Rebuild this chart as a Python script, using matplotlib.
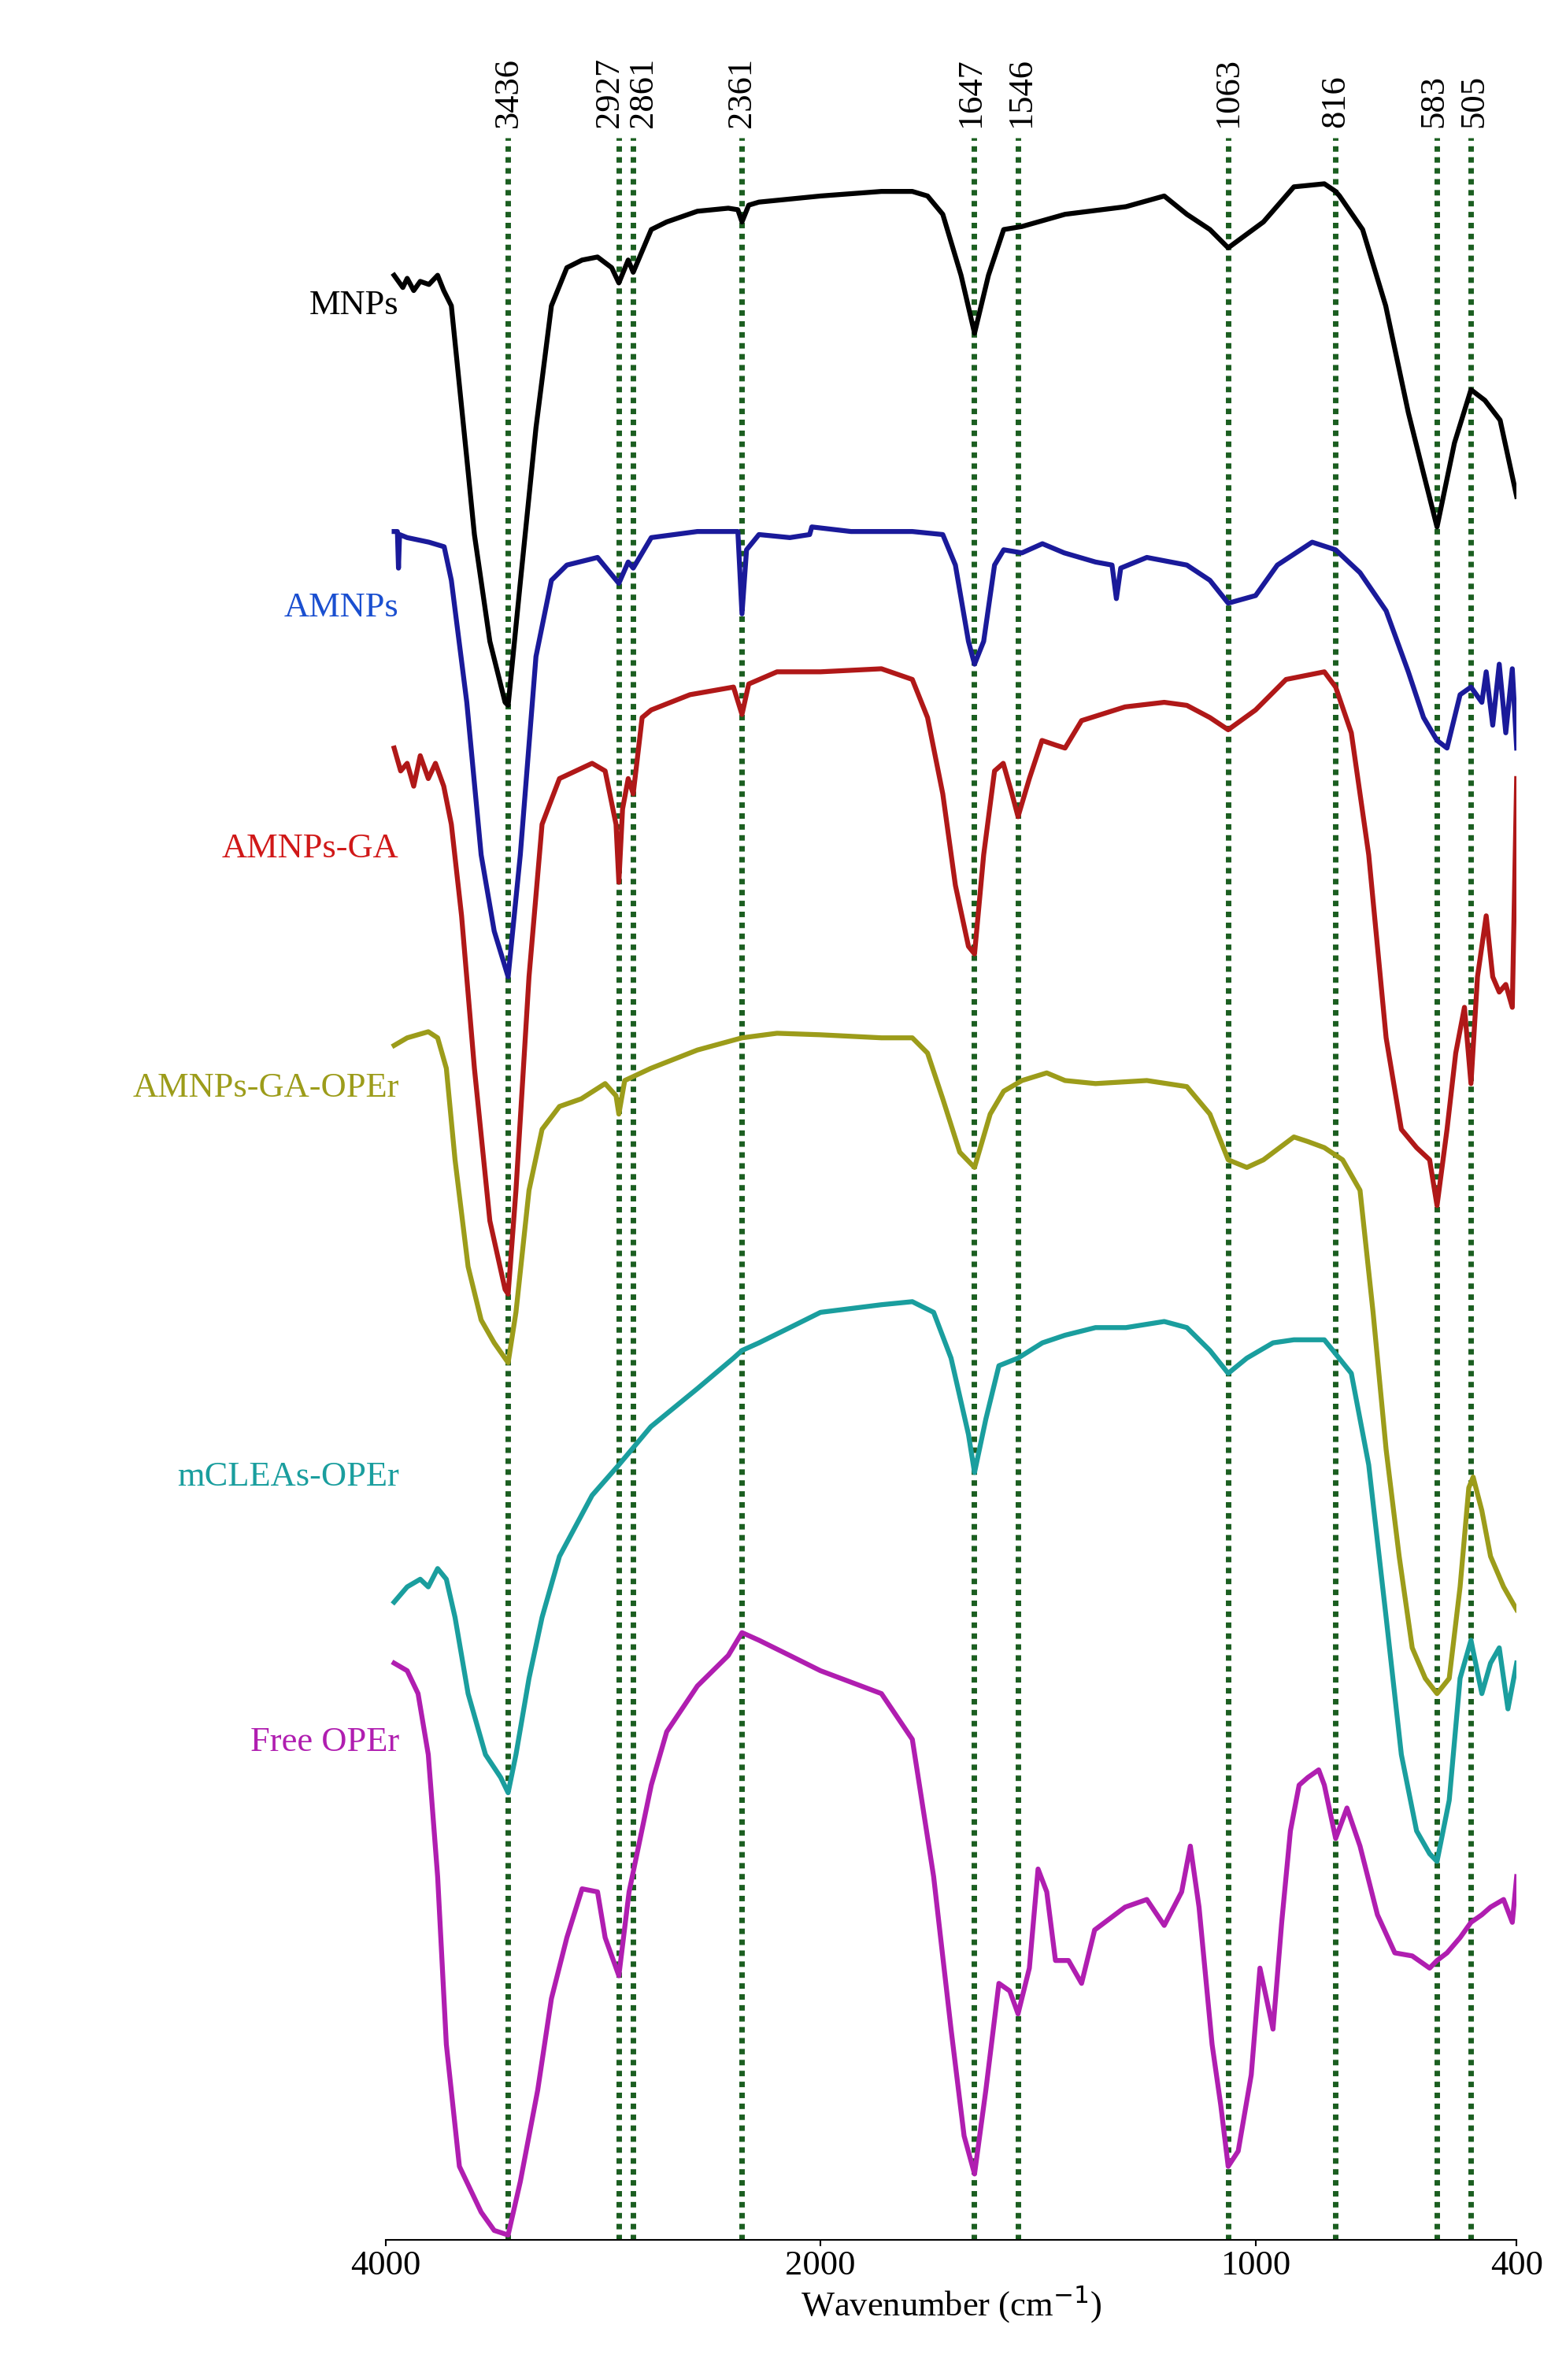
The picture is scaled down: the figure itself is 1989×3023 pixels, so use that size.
import numpy as np
import matplotlib
matplotlib.use("Agg")
import matplotlib.pyplot as plt
import matplotlib.transforms as mtransforms

peaks = [3436, 2927, 2861, 2361, 1647, 1546, 1063, 816, 583, 505]
tick_vals = [4000, 2000, 1000, 400]

mnps_x = [3960,3920,3900,3870,3840,3800,3760,3732,3697,3626,3591,3520,3450,3436,3379,3308,3237,3166,3096,3025,2960,2927,2884,2861,2778,2707,2566,2424,2380,2361,2330,2283,2141,2000,1860,1789,1754,1719,1677,1646,1614,1579,1537,1438,1298,1210,1158,1105,1063,982,912,842,816,807,754,701,649,614,583,543,505,473,438,400]
mnps_y = [180,188,182,190,184,186,180,190,200,300,350,420,460,462,380,280,200,175,170,168,175,185,170,178,150,145,138,136,137,145,134,132,130,128,125,125,128,140,180,218,180,150,148,140,135,128,140,150,162,145,122,120,125,128,150,200,270,310,345,290,255,262,275,325]

amnps_x = [3960,3945,3940,3935,3900,3800,3730,3697,3626,3560,3500,3436,3380,3308,3237,3166,3025,2927,2884,2861,2778,2566,2380,2361,2340,2283,2141,2050,2040,1930,1789,1719,1690,1660,1646,1625,1600,1579,1537,1490,1440,1368,1330,1320,1310,1250,1158,1105,1063,1000,950,870,816,760,700,649,614,583,560,530,505,480,470,455,440,425,410,400]
amnps_y = [348,348,372,350,352,355,358,380,460,560,610,640,560,430,380,370,365,382,368,372,352,348,348,402,360,350,352,350,345,348,348,350,370,420,435,420,370,360,362,356,362,368,370,392,372,365,370,380,395,390,370,355,360,375,400,440,470,485,490,455,450,460,440,475,435,480,438,490]

ga_x = [3960,3930,3900,3870,3840,3803,3770,3732,3697,3650,3591,3520,3450,3436,3400,3340,3280,3200,3050,2990,2940,2927,2910,2884,2861,2820,2778,2600,2400,2361,2330,2200,2000,1860,1789,1754,1719,1690,1660,1646,1625,1600,1580,1560,1546,1520,1491,1460,1438,1400,1300,1210,1158,1105,1063,1000,930,842,816,780,740,700,665,630,600,583,560,540,520,505,490,470,455,440,425,410,400]
ga_y = [490,505,500,515,495,510,500,515,540,600,700,800,845,848,780,640,540,510,500,505,540,578,530,510,520,470,465,455,450,468,448,440,440,438,445,470,520,580,620,625,560,505,500,520,535,510,485,488,490,472,463,460,462,470,478,465,445,440,450,480,560,680,740,752,760,790,740,690,660,710,640,600,640,650,645,660,510]

gao_x = [3960,3900,3803,3760,3720,3680,3620,3560,3500,3436,3400,3340,3280,3200,3100,2990,2940,2927,2900,2780,2566,2361,2200,2000,1860,1789,1754,1719,1680,1646,1610,1579,1537,1480,1438,1368,1250,1158,1105,1063,1020,982,912,880,842,800,760,730,700,670,640,610,583,555,530,510,500,480,460,430,400]
gao_y = [685,680,676,680,700,760,830,865,880,893,860,780,740,725,720,710,718,730,708,700,688,680,677,678,680,680,690,720,755,765,730,715,708,703,708,710,708,712,730,760,765,760,745,748,752,760,780,860,950,1020,1080,1100,1110,1100,1040,975,968,990,1020,1040,1055]

mc_x = [3960,3900,3840,3803,3760,3720,3680,3620,3540,3470,3436,3400,3340,3280,3200,3050,2927,2780,2566,2400,2361,2283,2141,2000,1860,1789,1740,1700,1660,1646,1620,1590,1546,1490,1438,1368,1298,1210,1158,1105,1063,1020,960,912,842,780,740,700,665,630,600,583,555,530,505,480,460,440,420,400]
mc_y = [1050,1040,1035,1040,1028,1035,1060,1110,1150,1165,1175,1150,1100,1060,1020,980,960,935,910,890,885,880,870,860,855,853,860,890,940,965,930,895,890,880,875,870,870,866,870,885,900,890,880,878,878,900,960,1060,1150,1200,1215,1220,1180,1100,1075,1110,1090,1080,1120,1090]

free_x = [3960,3900,3850,3803,3760,3720,3660,3560,3500,3436,3380,3300,3237,3166,3096,3025,2990,2927,2880,2778,2707,2566,2424,2361,2283,2141,2000,1860,1789,1740,1700,1670,1646,1620,1590,1565,1546,1520,1500,1480,1460,1430,1400,1370,1300,1250,1210,1170,1150,1130,1100,1080,1063,1040,1010,990,960,940,920,900,880,855,842,816,790,760,720,680,640,600,583,560,530,505,480,460,430,410,400]
free_y = [1090,1095,1110,1150,1230,1340,1420,1450,1462,1465,1430,1370,1310,1270,1238,1240,1270,1295,1240,1170,1135,1105,1085,1070,1075,1085,1095,1110,1140,1230,1330,1400,1425,1370,1300,1305,1320,1290,1225,1240,1285,1285,1300,1265,1250,1245,1262,1240,1210,1250,1340,1380,1420,1410,1360,1290,1330,1260,1200,1170,1165,1160,1170,1205,1185,1210,1255,1280,1282,1290,1285,1280,1270,1260,1255,1250,1245,1260,1230]

series = [
    ("MNPs", mnps_x, mnps_y, "#000000", 200),
    ("AMNPs", amnps_x, amnps_y, "#1a1a9a", 398),
    ("AMNPs-GA", ga_x, ga_y, "#b01818", 556),
    ("AMNPs-GA-OPEr", gao_x, gao_y, "#9c9c1a", 713),
    ("mCLEAs-OPEr", mc_x, mc_y, "#1a9e9e", 968),
    ("Free OPEr", free_x, free_y, "#b01eb0", 1142),
]
label_colors = ["#000000", "#1a4fd0", "#d01818", "#9c9c1a", "#1a9e9e", "#b01eb0"]

def fwd(v):
    v = np.asarray(v, dtype=float)
    return np.where(v > 2000, 2000 + (v - 2000) / 2, v)

def inv(u):
    u = np.asarray(u, dtype=float)
    return np.where(u > 2000, 2000 + (u - 2000) * 2, u)

serif = ["Liberation Serif", "DejaVu Serif"]
fig = plt.figure(figsize=(19.9, 30.23), dpi=100)
ax = fig.add_axes([0.246, 0.059, 0.722, 0.883])
ax.set_xscale("function", functions=(fwd, inv))

for p in peaks:
    ax.axvline(p, color="#1b5e20", linestyle=(0, (1, 1)), lw=5, zorder=1)

trans = mtransforms.blended_transform_factory(ax.transAxes, ax.transData)
for (name, xs, ys, c, ly), lc in zip(series, label_colors):
    ax.plot(xs, ys, color=c, lw=4.5, zorder=2, solid_joinstyle="round")
    ax.text(0.012, ly, name, transform=trans, ha="right", va="center",
            fontsize=32, color=lc, family=serif)

ax.set_xlim(4000, 400)
ax.set_ylim(1468, 90)
ax.set_xticks(tick_vals)
ax.set_xticklabels([str(t) for t in tick_vals], fontsize=32, family=serif)
ax.set_xlabel("Wavenumber (cm$^{-1}$)", fontsize=32, family=serif, labelpad=2)
ax.set_yticks([])
for s in ["left", "top", "right"]:
    ax.spines[s].set_visible(False)
ax.spines["bottom"].set_linewidth(1.5)
ax.tick_params(axis="x", length=6, width=1.5)

peak_offsets = {2927: -9, 2861: 9, 1647: -3, 1546: 3, 583: -3, 505: 3}
ptrans = mtransforms.blended_transform_factory(ax.transData, ax.transAxes)
for p in peaks:
    dx = peak_offsets.get(p, 0)
    ax.annotate(str(p), xy=(p, 1.005), xycoords=ptrans, xytext=(dx, 0),
                textcoords="offset points", rotation=90, ha="center", va="bottom",
                fontsize=32, family=serif)

fig.savefig("out.png", dpi=100)
